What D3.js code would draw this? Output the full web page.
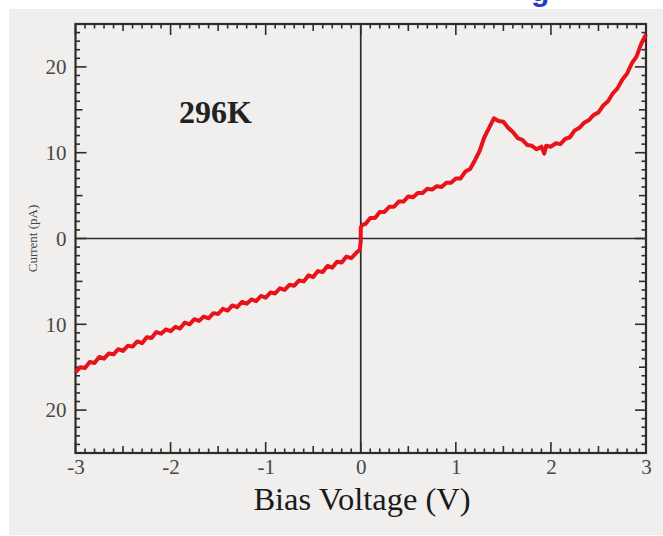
<!DOCTYPE html>
<meta charset="utf-8">
<style>
body {
	margin: 0;
	padding: 0;
	background: #fff;
}
svg {
	display: block;
}
.tick-label {
	font-family: "Liberation Serif", "Times New Roman", serif;
	font-size: 21px;
	fill: #474747;
}
</style>
<body>
<div id="chart"></div>
<script src="https://cdn.jsdelivr.net/npm/d3@7"></script>
<script>

// bias voltage (V)
var voltage = [
	-3.00, -2.95, -2.90, -2.85, -2.80, -2.75, -2.70, -2.65, -2.60, -2.55,
	-2.50, -2.45, -2.40, -2.35, -2.30, -2.25, -2.20, -2.15, -2.10, -2.05,
	-2.00, -1.95, -1.90, -1.85, -1.80, -1.75, -1.70, -1.65, -1.60, -1.55,
	-1.50, -1.45, -1.40, -1.35, -1.30, -1.25, -1.20, -1.15, -1.10, -1.05,
	-1.00, -0.95, -0.90, -0.85, -0.80, -0.75, -0.70, -0.65, -0.60, -0.55,
	-0.50, -0.45, -0.40, -0.35, -0.30, -0.25, -0.20, -0.15, -0.10, -0.05,
	-0.01, 0.00, 0.00, 0.02, 0.05,
	0.10, 0.15, 0.20, 0.25, 0.30, 0.35, 0.40, 0.45, 0.50, 0.55,
	0.60, 0.65, 0.70, 0.75, 0.80, 0.85, 0.90, 0.95, 1.00, 1.05,
	1.10, 1.15, 1.20, 1.25, 1.30, 1.35, 1.40, 1.45, 1.50, 1.55,
	1.60, 1.65, 1.70, 1.75, 1.80, 1.85, 1.90, 1.93, 1.95, 2.00,
	2.05, 2.10, 2.15, 2.20, 2.25, 2.30, 2.35, 2.40, 2.45, 2.50,
	2.55, 2.60, 2.65, 2.70, 2.75, 2.80, 2.85, 2.90, 2.95, 3.00
];

// current (pA)
var current = [
	-15.6, -15.0, -15.1, -14.4, -14.5, -13.8, -14.0, -13.4, -13.5, -12.9,
	-13.1, -12.5, -12.6, -12.0, -12.2, -11.5, -11.6, -10.9, -11.1, -10.6,
	-10.8, -10.3, -10.5, -9.8, -10.0, -9.4, -9.6, -9.1, -9.3, -8.7,
	-8.8, -8.2, -8.4, -7.8, -8.0, -7.4, -7.6, -7.1, -7.3, -6.7,
	-6.9, -6.3, -6.4, -5.8, -6.0, -5.4, -5.5, -4.9, -5.0, -4.3,
	-4.5, -3.8, -3.9, -3.2, -3.4, -2.7, -2.8, -2.1, -2.3, -1.7,
	-1.3, -0.3, 1.3, 1.6, 1.7,
	2.4, 2.4, 3.1, 3.1, 3.7, 3.7, 4.3, 4.3, 4.9, 4.8,
	5.3, 5.3, 5.8, 5.7, 6.1, 6.0, 6.5, 6.5, 7.0, 7.0,
	7.8, 8.1, 9.1, 10.2, 11.8, 12.9, 14.0, 13.7, 13.6, 12.9,
	12.4, 11.7, 11.5, 10.9, 10.8, 10.4, 10.7, 9.9, 10.8, 10.7,
	11.1, 11.0, 11.6, 11.8, 12.6, 12.9, 13.5, 13.8, 14.4, 14.7,
	15.5, 16.0, 16.9, 17.5, 18.5, 19.2, 20.4, 21.2, 22.7, 23.8
];

var xTicks = [-3, -2, -1, 0, 1, 2, 3];
var yTicks = [20, 10, 0, -10, -20];
var yTickLabels = ["20", "10", "0", "10", "20"];

var width = 663,
	height = 536;

var x = d3.scaleLinear().domain([-3, 3]).range([75.5, 646]);
var y = d3.scaleLinear().domain([-25, 25]).range([453, 24]);

var svg = d3.select("#chart").append("svg")
	.attr("width", width)
	.attr("height", height);

// grey photo backdrop
svg.append("rect")
	.attr("x", 9).attr("y", 9)
	.attr("width", width - 9).attr("height", 526)
	.attr("fill", "#f0efed");

// cut-off blue heading fragment at the top (cropped in the original too)
svg.append("text")
	.attr("x", 531).attr("y", 1)
	.attr("font-family", "Liberation Sans, Arial, sans-serif")
	.attr("font-weight", "bold")
	.attr("font-size", 30)
	.attr("fill", "#1d3fc0")
	.text("g");

var axisColor = "#2c2c2c";

// zero lines
svg.append("line")
	.attr("x1", x(-3)).attr("x2", x(3))
	.attr("y1", y(0)).attr("y2", y(0))
	.attr("stroke", axisColor).attr("stroke-width", 1.7);
svg.append("line")
	.attr("x1", x(0)).attr("x2", x(0))
	.attr("y1", y(-25)).attr("y2", y(25))
	.attr("stroke", axisColor).attr("stroke-width", 1.7);

// minor / half / major tick marks, all pointing inward
var ticks = svg.append("g")
	.attr("stroke", axisColor)
	.attr("stroke-width", 1.6);

function tickLen(v, major, half) {
	var r = Math.round(v * 1000) / 1000;
	if (Math.abs(r % major) < 1e-6) return 11;
	if (Math.abs(r % half) < 1e-6) return 7;
	return 4.5;
}

var xMinor = d3.range(-30, 31).map(function(i) { return i / 10; });
xMinor.forEach(function(v) {
	var l = tickLen(v, 1, 0.5);
	ticks.append("line")
		.attr("x1", x(v)).attr("x2", x(v))
		.attr("y1", y(25)).attr("y2", y(25) + l);
	ticks.append("line")
		.attr("x1", x(v)).attr("x2", x(v))
		.attr("y1", y(-25)).attr("y2", y(-25) - l);
});

var yMinor = d3.range(-25, 26);
yMinor.forEach(function(v) {
	var l = tickLen(v, 10, 5);
	ticks.append("line")
		.attr("x1", x(-3)).attr("x2", x(-3) + l)
		.attr("y1", y(v)).attr("y2", y(v));
	ticks.append("line")
		.attr("x1", x(3)).attr("x2", x(3) - l)
		.attr("y1", y(v)).attr("y2", y(v));
});

// frame
svg.append("rect")
	.attr("x", x(-3)).attr("y", y(25))
	.attr("width", x(3) - x(-3))
	.attr("height", y(-25) - y(25))
	.attr("fill", "none")
	.attr("stroke", axisColor)
	.attr("stroke-width", 2.2);

// tick labels via d3 axes (tick lines hidden)
var xAxis = svg.append("g")
	.attr("transform", "translate(0," + y(-25) + ")")
	.call(d3.axisBottom(x).tickValues(xTicks).tickSize(0).tickPadding(6)
		.tickFormat(function(d) { return d; }));
xAxis.select(".domain").remove();
xAxis.selectAll("text")
	.attr("class", "tick-label")
	.attr("font-size", null)
	.attr("font-family", null)
	.attr("fill", null);

var yAxis = svg.append("g")
	.attr("transform", "translate(" + x(-3) + ",0)")
	.call(d3.axisLeft(y).tickValues(yTicks).tickSize(0).tickPadding(9)
		.tickFormat(function(d, i) { return yTickLabels[i]; }));
yAxis.select(".domain").remove();
yAxis.selectAll("text")
	.attr("class", "tick-label")
	.attr("font-size", null)
	.attr("font-family", null)
	.attr("fill", null);

// data trace
var line = d3.line()
	.x(function(d) { return x(d[0]); })
	.y(function(d) { return y(d[1]); });

svg.append("path")
	.datum(d3.zip(voltage, current))
	.attr("d", line)
	.attr("fill", "none")
	.attr("stroke", "#e8121a")
	.attr("stroke-width", 4)
	.attr("stroke-linejoin", "round");

// temperature label
svg.append("text")
	.attr("x", 179).attr("y", 123)
	.attr("font-family", "Liberation Serif, Times New Roman, serif")
	.attr("font-weight", "bold")
	.attr("font-size", 32)
	.attr("fill", "#222")
	.text("296K");

// axis titles
svg.append("text")
	.attr("x", 362).attr("y", 510)
	.attr("text-anchor", "middle")
	.attr("font-family", "Liberation Serif, Times New Roman, serif")
	.attr("font-size", 32.5)
	.attr("fill", "#1a1a1a")
	.text("Bias Voltage (V)");

svg.append("text")
	.attr("transform", "translate(37," + y(0) + ") rotate(-90)")
	.attr("text-anchor", "middle")
	.attr("font-family", "Liberation Serif, Times New Roman, serif")
	.attr("font-size", 13)
	.attr("fill", "#444")
	.text("Current (pA)");

</script>
</body>
